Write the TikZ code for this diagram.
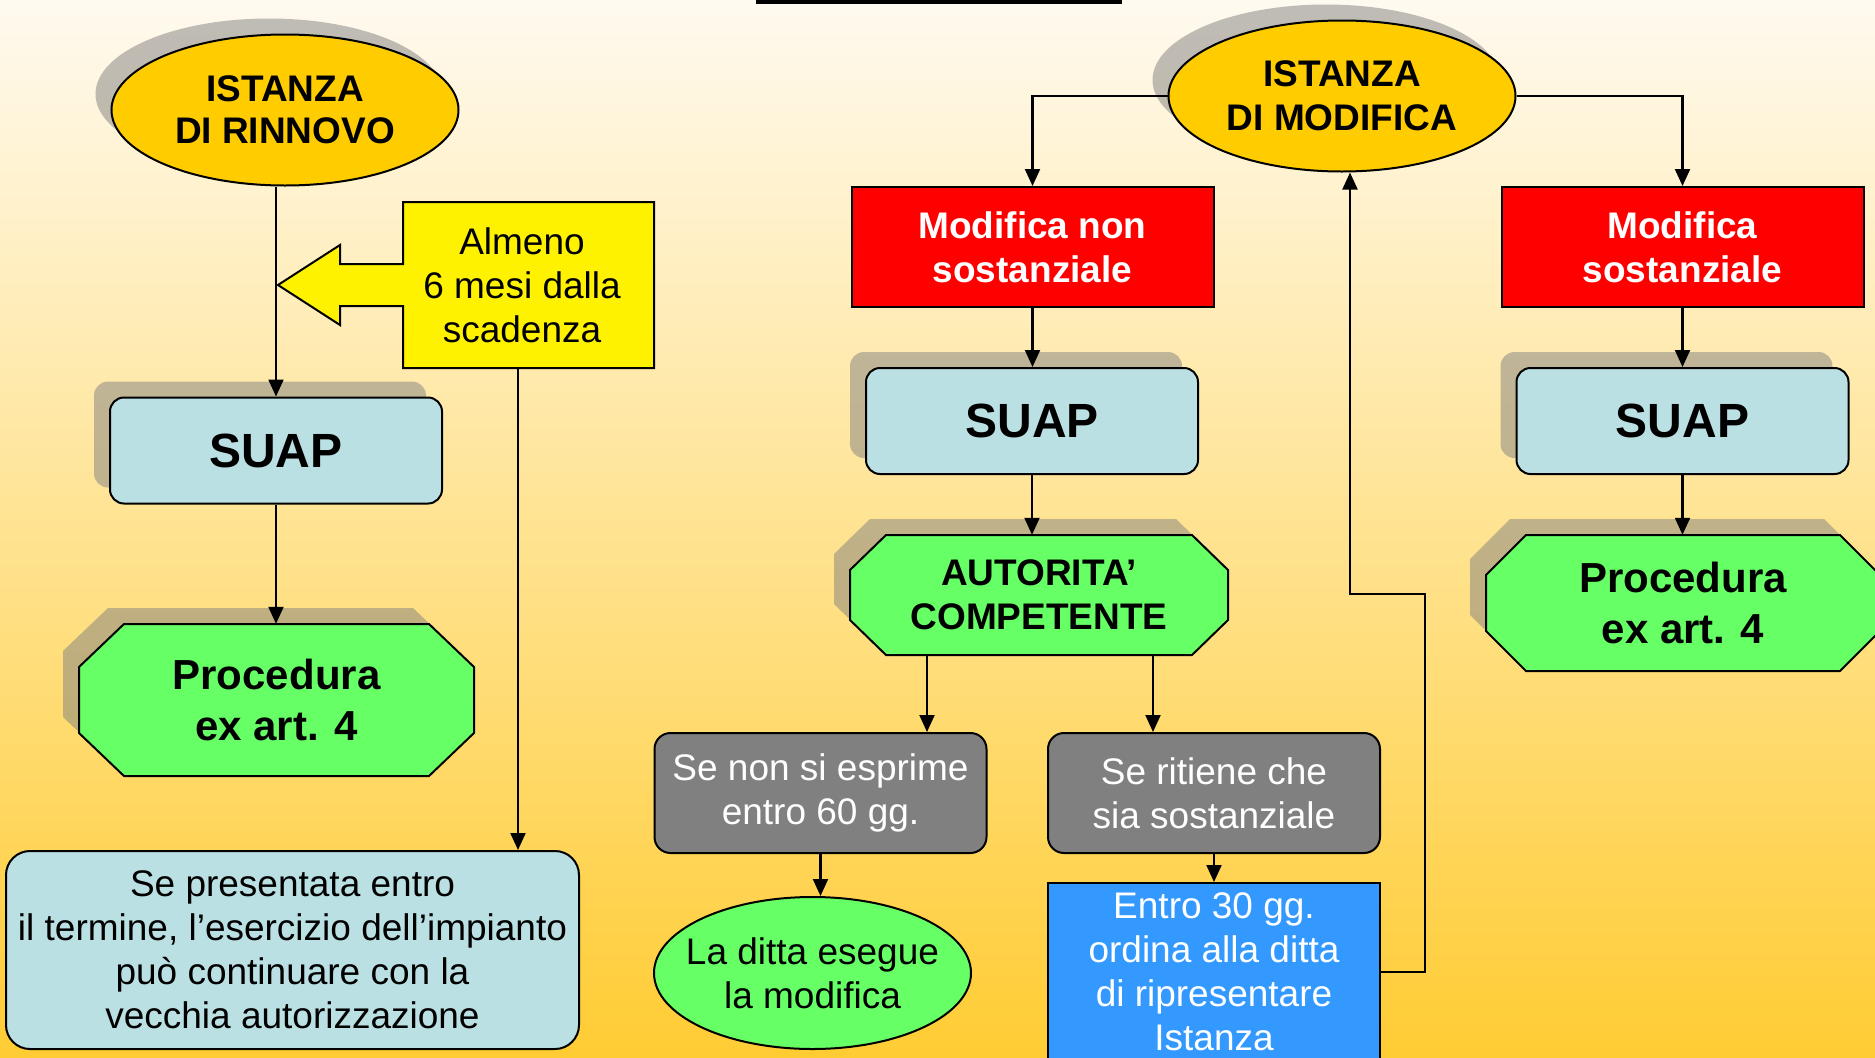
\documentclass[tikz,border=0pt]{standalone}
\usepackage{fontspec}
\setmainfont{Liberation Sans}
\usetikzlibrary{shapes.geometric,shadows,arrows.meta}

\definecolor{bgtop}{RGB}{255,250,240}
\definecolor{bgbot}{RGB}{255,204,51}
\definecolor{istyellow}{RGB}{255,204,0}
\definecolor{suapblue}{RGB}{187,224,227}
\definecolor{procgreen}{RGB}{102,255,102}
\definecolor{entroblue}{RGB}{51,153,255}

\begin{document}
\begin{tikzpicture}[x=1pt, y=-1pt,
    every node/.style={inner sep=0pt, align=center, font=\fontsize{37}{44}\selectfont},
    shad/.style={drop shadow={shadow xshift=-16pt, shadow yshift=16pt, fill=gray, opacity=.5}},
    conn/.style={line width=2.1pt, -{Triangle[length=17pt, width=15pt]}},
    istanza/.style={ellipse, draw, line width=2pt, fill=istyellow, font=\fontsize{37}{44}\selectfont\bfseries, minimum width=347pt, minimum height=151pt, shad},
    suap/.style={rectangle, draw, line width=2pt, rounded corners=14pt, fill=suapblue, font=\fontsize{48}{56}\selectfont\bfseries, minimum width=332pt, minimum height=106pt, shad},
    octa/.style={draw, line width=2pt, fill=procgreen, shad},
    proctext/.style={font=\fontsize{42}{51}\selectfont\bfseries},
    redbox/.style={rectangle, draw, line width=2pt, fill=red, text=white, font=\fontsize{37}{44}\selectfont\bfseries, minimum width=362pt, minimum height=120pt},
    graybox/.style={rectangle, draw, line width=2pt, rounded corners=16pt, fill=gray, text=white, minimum width=332pt, minimum height=120pt},
    callout/.style={draw, line width=2pt, fill=yellow}]

    \useasboundingbox (0,0) rectangle (1875,1058);
    \shade[top color=bgtop, bottom color=bgbot] (0,0) rectangle (1875,1058);
    \draw[line width=4pt] (756,1.5) -- (1122,1.5);

    % rinnovo
    \node[istanza] (rinnovo) at (285,110) {\raisebox{-2pt}{ISTANZA}\\DI RINNOVO};
    \path[callout] (403,202) -- (654,202) -- (654,368) -- (403,368) -- (403,306) -- (340,306) -- (340,325) -- (278,285) -- (340,245) -- (340,264) -- (403,264) -- cycle;
    \node[minimum width=237pt, minimum height=166pt] (almeno) at (522,285) {Almeno\\6 mesi dalla\\scadenza};
    \node[suap] (suapA) at (276,450.5) {SUAP};
    \path[octa] (124,624) -- (429,624) -- (474,667) -- (474,733) -- (429,776) -- (124,776) -- (79,733) -- (79,667) -- cycle;
    \node[proctext, minimum width=395pt, minimum height=152pt] (procA) at (276.5,700) {Procedura\\ex art. 4};
    \node[draw, line width=2pt, rounded corners=24pt, fill=suapblue, minimum width=573pt, minimum height=198pt] (esercizio) at (292.5,950) {Se presentata entro\\il termine, l’esercizio dell’impianto\\può continuare con la\\vecchia autorizzazione};

    % modifica
    \node[istanza] (modifica) at (1342,96) {ISTANZA\\DI MODIFICA};
    \node[redbox] (nonsost) at (1032.5,247) {Modifica non\\sostanziale};
    \node[redbox] (sost) at (1682.5,247) {Modifica\\sostanziale};
    \node[suap] (suapB) at (1032,421) {SUAP};
    \node[suap] (suapC) at (1682.5,421) {SUAP};
    \path[octa] (886,535) -- (1192,535) -- (1228,570) -- (1228,620) -- (1192,655) -- (886,655) -- (850,620) -- (850,570) -- cycle;
    \node[font=\fontsize{37}{44}\selectfont\bfseries, minimum width=378pt, minimum height=120pt] (autorita) at (1039,595) {AUTORITA’\\COMPETENTE};
    \path[octa] (1526,535) -- (1840,535) -- (1880,575) -- (1880,631) -- (1840,671) -- (1526,671) -- (1486,631) -- (1486,575) -- cycle;
    \node[proctext, minimum width=394pt, minimum height=136pt] (procC) at (1683,603) {Procedura\\ex art. 4};
    \node[graybox] (grayA) at (820.5,793) {Se non si esprime\\entro 60 gg.};
    \node[graybox] (grayB) at (1214,793) {Se ritiene che\\sia sostanziale};
    \node[ellipse, draw, line width=2pt, fill=procgreen, minimum width=317pt, minimum height=152pt] (ditta) at (812.5,973) {};
    \node at (ditta) {La ditta esegue\\la modifica};
    \node[draw, line width=2pt, fill=entroblue, text=white, minimum width=332pt, minimum height=178pt] (entro) at (1214,972) {Entro 30 gg.\\ordina alla ditta\\di ripresentare\\Istanza};
    \coordinate (turn) at (1425,594);

    \draw[conn] (suapA.north |- rinnovo.south) -- (suapA);
    \draw[conn] (suapA) -- (suapA.south |- procA.north);
    \draw[conn] ([xshift=-4pt]almeno.south) -- ([xshift=-4pt]almeno.south |- esercizio.north);
    \draw[conn] (modifica.west) -| (nonsost);
    \draw[conn] (modifica.east) -| (sost);
    \draw[conn] (nonsost) -- (nonsost.south |- suapB.north);
    \draw[conn] (suapB) -- (suapB.south |- autorita.north);
    \draw[conn] (sost) -- (suapC);
    \draw[conn] (suapC) -- (suapC.south |- procC.north);
    \draw[conn] ([xshift=-112pt]autorita.south) -- ([xshift=-112pt]autorita.south |- grayA.north);
    \draw[conn] ([xshift=114pt]autorita.south) -- ([xshift=114pt]autorita.south |- grayB.north);
    \draw[conn] (grayA.south) -- (grayA.south |- ditta.north);
    \draw[conn] (grayB) -- (entro);
    \draw[conn] (entro.east) -| (turn) -| ([xshift=8pt]modifica.south);
\end{tikzpicture}
\end{document}
